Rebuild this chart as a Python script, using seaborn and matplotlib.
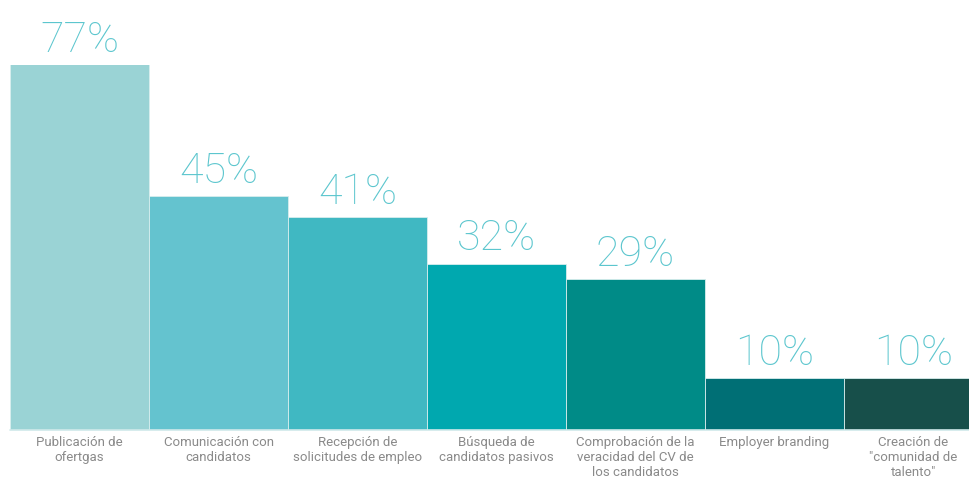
import matplotlib
matplotlib.use("Agg")
import matplotlib.pyplot as plt
import seaborn as sns
import pandas as pd

categories = [
    "Publicación de\nofertgas",
    "Comunicación con\ncandidatos",
    "Recepción de\nsolicitudes de empleo",
    "Búsqueda de\ncandidatos pasivos",
    "Comprobación de la\nveracidad del CV de\nlos candidatos",
    "Employer branding",
    "Creación de\n\"comunidad de\ntalento\"",
]
values = [77, 45, 41, 32, 29, 10, 10]
labels = ["77%", "45%", "41%", "32%", "29%", "10%", "10%"]
colors = ["#9AD3D5", "#64C3CF", "#40B8C2", "#00A8AF", "#008B87", "#006F75", "#174F4A"]

sns.set_theme(style="white")
plt.rcParams["font.family"] = ["Roboto", "DejaVu Sans"]

df = pd.DataFrame({"cat": categories, "val": values})

W, H = 969, 478
fig = plt.figure(figsize=(W / 100, H / 100), dpi=100)
left, right = 10, 983
top, bottom = 65, 430
ax = fig.add_axes([left / W, 1 - bottom / H, (right - left) / W, (bottom - top) / H])

sns.barplot(data=df, x="cat", y="val", hue="cat", palette=colors, width=1.0,
            legend=False, ax=ax, edgecolor="#d8eeee", linewidth=0.6, saturation=1)

ax.set_ylim(0, 70.2)
ax.set_xlim(-0.5, 6.5)
for s in ax.spines.values():
    s.set_visible(False)
ax.set_yticks([])
ax.set_xlabel("")
ax.set_ylabel("")
ax.tick_params(axis="x", length=0, pad=4)
ax.set_xticks(range(len(categories)))
ax.set_xticklabels(categories, fontsize=9.5, color="#8a8a8a", linespacing=1.2, va="top")
ax.axhline(0, color="#cfe9ea", lw=1.2, clip_on=False)

for i, (v, lab) in enumerate(zip(values, labels)):
    y = min(v, 70.2)
    ax.annotate(lab, (i, y), xytext=(0, 9.5), textcoords="offset points",
                ha="center", va="baseline", fontsize=31, color="#5CC6CE",
                family=["Roboto", "DejaVu Sans"], fontweight="light", annotation_clip=False)

fig.savefig("out.png", dpi=100)
